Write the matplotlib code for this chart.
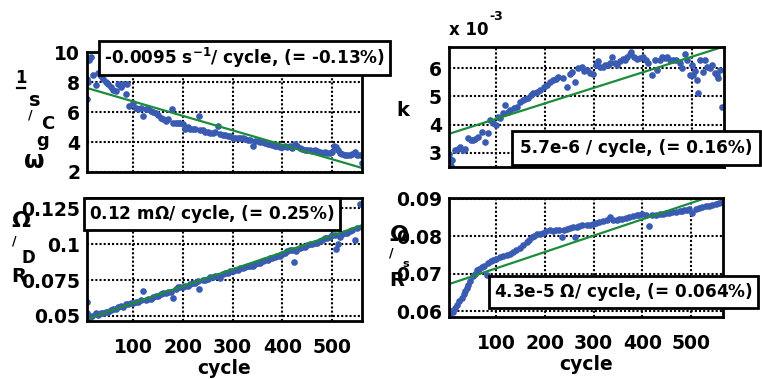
import matplotlib
matplotlib.use('Agg')
import matplotlib.pyplot as plt
from matplotlib.lines import Line2D
import numpy as np

plt.rcParams['font.family'] = ['DejaVu Sans']
plt.rcParams['font.weight'] = 'bold'

W, H = 762, 379

# ---- data ----
# top-left: omega_g^C (1/s) vs cycle
omega_pts = [
    (7, 8.2), (7, 6.85), (9, 8.0), (12, 9.5), (15, 9.65), (20, 8.5), (25, 7.8), (30, 8.6),
    (35, 8.4), (40, 8.2), (45, 8.0), (50, 7.9), (55, 7.7), (60, 7.5), (65, 7.4), (70, 7.9),
    (75, 7.7), (80, 7.9), (85, 7.2), (88, 7.9), (92, 6.4), (100, 6.6), (105, 6.3), (110, 6.2),
    (115, 6.3), (120, 5.7), (125, 6.2), (130, 6.2), (135, 6.1), (140, 6.0), (145, 5.9),
    (150, 5.8), (155, 5.6), (160, 5.5), (165, 5.4), (170, 5.5), (178, 6.2), (180, 5.3),
    (185, 5.3), (190, 5.3), (195, 5.3), (200, 5.2), (205, 4.9), (210, 5.0), (215, 4.9),
    (220, 4.85), (225, 4.9), (232, 5.7), (235, 4.8), (240, 4.8), (245, 4.7), (250, 4.7),
    (255, 4.6), (260, 4.6), (265, 4.65), (270, 5.1), (275, 4.55), (280, 4.5), (285, 4.45),
    (290, 4.4), (295, 4.4), (300, 4.3), (305, 4.3), (310, 4.25), (315, 4.25), (320, 4.3),
    (325, 4.2), (330, 4.15), (335, 4.15), (340, 3.75), (345, 4.1), (350, 4.05), (355, 4.0),
    (360, 4.0), (365, 3.95), (370, 3.9), (375, 3.85), (380, 3.8), (385, 3.75), (390, 3.7),
    (395, 3.65), (400, 3.65), (405, 3.7), (410, 3.65), (415, 3.7), (420, 3.6), (425, 3.9),
    (430, 3.75), (435, 3.6), (440, 3.55), (445, 3.5), (450, 3.5), (455, 3.45), (460, 3.4),
    (465, 3.45), (470, 3.4), (475, 3.35), (480, 3.3), (485, 3.35), (490, 3.3), (495, 3.25),
    (500, 3.35), (503, 3.75), (507, 3.65), (511, 3.45), (515, 3.3), (520, 3.2), (525, 3.15),
    (530, 3.1), (535, 3.15), (540, 3.2), (545, 3.35), (550, 3.15), (555, 3.1), (560, 2.6),
]
omega_fit = [(7, 7.6), (560, 2.27)]

# top-right: k (x 1e-3) vs cycle
k_pts = [
    (5, 2.95), (6, 2.8), (7, 2.65), (8, 2.55), (10, 2.75), (16, 3.1), (22, 3.15), (27, 3.2),
    (32, 3.1), (37, 3.15), (43, 3.53), (48, 3.45), (53, 3.47), (58, 3.5), (63, 3.58),
    (71, 3.75), (78, 3.4), (84, 3.7), (88, 4.17), (94, 4.07), (99, 4.0), (104, 4.28),
    (109, 4.25), (114, 4.4), (118, 4.7), (124, 4.45), (129, 4.53), (136, 4.6), (143, 4.63),
    (149, 4.8), (155, 4.88), (160, 4.9), (165, 4.95), (171, 5.05), (176, 5.12), (183, 5.15),
    (190, 5.23), (197, 5.35), (204, 5.4), (210, 5.5), (216, 5.58), (222, 5.6), (227, 5.68),
    (237, 5.65), (245, 5.33), (250, 5.8), (255, 5.86), (261, 5.5), (268, 6.0), (275, 6.03),
    (280, 5.9), (286, 5.93), (292, 5.82), (298, 5.78), (303, 6.1), (308, 6.25), (313, 6.05),
    (318, 6.03), (323, 6.1), (329, 6.1), (333, 6.2), (337, 6.4), (342, 6.2), (347, 6.1),
    (353, 6.25), (359, 6.33), (364, 6.3), (368, 6.4), (373, 6.5), (376, 6.56), (382, 6.4),
    (388, 6.33), (394, 6.35), (400, 6.4), (405, 6.3), (410, 6.2), (418, 5.75), (424, 6.3),
    (429, 5.93), (434, 6.3), (439, 6.4), (444, 6.35), (449, 6.4), (455, 6.3), (461, 6.28),
    (468, 6.3), (476, 6.2), (480, 6.0), (486, 6.5), (490, 6.3), (496, 5.75), (500, 6.1),
    (502, 5.75), (506, 5.9), (510, 5.58), (511, 5.12), (516, 6.28), (522, 5.86),
    (527, 6.3), (531, 6.03), (536, 6.0), (541, 6.1), (547, 5.82), (551, 5.75), (553, 5.65),
    (557, 5.93), (561, 4.63),
]
k_fit = [(5, 3.68), (560, 6.74)]

# bottom-left: R_D (Ohm) vs cycle
rd_pts = [
    (8, 0.0597), (8, 0.052), (10, 0.050), (13, 0.049), (18, 0.050), (25, 0.052), (30, 0.051),
    (35, 0.052), (40, 0.052), (45, 0.053), (50, 0.053), (55, 0.054), (60, 0.055), (65, 0.055),
    (70, 0.056), (75, 0.057), (80, 0.056), (85, 0.058), (90, 0.058), (95, 0.059), (100, 0.059),
    (105, 0.060), (110, 0.060), (115, 0.061), (120, 0.0674), (125, 0.061), (130, 0.062),
    (135, 0.062), (140, 0.063), (145, 0.064), (150, 0.064), (155, 0.065), (160, 0.066),
    (165, 0.066), (170, 0.067), (175, 0.067), (180, 0.0625), (185, 0.069), (190, 0.070),
    (195, 0.070), (200, 0.070), (205, 0.071), (210, 0.071), (215, 0.072), (220, 0.073),
    (225, 0.073), (230, 0.074), (233, 0.069), (240, 0.075), (245, 0.075), (250, 0.076),
    (255, 0.077), (260, 0.077), (265, 0.078), (270, 0.078), (275, 0.0765), (280, 0.079),
    (285, 0.080), (290, 0.080), (295, 0.081), (300, 0.081), (305, 0.082), (310, 0.082),
    (315, 0.083), (320, 0.083), (325, 0.084), (330, 0.085), (335, 0.085), (340, 0.085),
    (345, 0.086), (350, 0.087), (355, 0.087), (360, 0.088), (365, 0.089), (370, 0.089),
    (375, 0.090), (380, 0.090), (385, 0.091), (390, 0.092), (395, 0.092), (400, 0.093),
    (405, 0.094), (410, 0.095), (415, 0.096), (420, 0.096), (423, 0.0875), (428, 0.095),
    (435, 0.097), (440, 0.098), (445, 0.098), (450, 0.099), (455, 0.100), (460, 0.100),
    (465, 0.101), (470, 0.101), (475, 0.102), (480, 0.103), (485, 0.104), (490, 0.104),
    (495, 0.105), (500, 0.106), (505, 0.106), (508, 0.0965), (512, 0.100), (515, 0.105),
    (520, 0.107), (525, 0.108), (530, 0.108), (535, 0.109), (540, 0.110), (546, 0.103),
    (550, 0.111), (555, 0.128), (560, 0.112),
]
rd_fit = [(12, 0.0486), (560, 0.113)]

# bottom-right: R_s (Ohm) vs cycle
rs_pts = [
    (3, 0.0602), (6, 0.0595), (9, 0.0600), (12, 0.0598), (16, 0.0608), (20, 0.0618),
    (25, 0.0627), (30, 0.0636), (34, 0.0646), (37, 0.0655), (40, 0.0663), (43, 0.0671),
    (48, 0.0682), (53, 0.0693), (57, 0.0700), (61, 0.0709), (66, 0.0713), (71, 0.0717),
    (76, 0.0722), (82, 0.0698), (84, 0.0730), (89, 0.0734), (94, 0.0738), (100, 0.0740),
    (108, 0.0744), (115, 0.0747), (122, 0.0750), (128, 0.0752), (135, 0.0757),
    (142, 0.0763), (149, 0.0770), (156, 0.0777), (163, 0.0784), (168, 0.0790),
    (173, 0.0797), (178, 0.0801), (184, 0.0805), (190, 0.0807), (196, 0.0810),
    (203, 0.0813), (210, 0.0816), (217, 0.0815), (224, 0.0816), (230, 0.0818),
    (235, 0.0797), (240, 0.0818), (245, 0.0819), (251, 0.0821), (257, 0.0824),
    (261, 0.0797), (266, 0.0825), (271, 0.0827), (277, 0.0830), (286, 0.0830),
    (292, 0.0831), (298, 0.0832), (305, 0.0835), (312, 0.0838), (319, 0.0840),
    (327, 0.0843), (333, 0.0851), (340, 0.0844), (347, 0.0843), (353, 0.0845),
    (359, 0.0846), (366, 0.0849), (373, 0.0851), (380, 0.0853), (388, 0.0856),
    (394, 0.0857), (400, 0.0859), (407, 0.0857), (414, 0.0827), (420, 0.0856),
    (427, 0.0858), (435, 0.0859), (442, 0.0860), (449, 0.0862), (455, 0.0863),
    (461, 0.0864), (468, 0.0866), (476, 0.0867), (481, 0.0868), (486, 0.0870),
    (491, 0.0871), (496, 0.0872), (502, 0.0862), (509, 0.0872), (516, 0.0875),
    (523, 0.0877), (531, 0.0880), (537, 0.0881), (543, 0.0883), (550, 0.0885),
    (557, 0.0888), (563, 0.0891),
]
rs_fit = [(5, 0.0673), (560, 0.0915)]

x_ticks = [100, 200, 300, 400, 500]
x_tick_labels = ['100', '200', '300', '400', '500']

panels = [
    # pts, fit, rect (px: left, top, right, bottom), xlim, ylim, yticks, ylabels, bottom row
    (omega_pts, omega_fit, (87, 52, 362, 172), (7, 560), (2, 10),
     [2, 4, 6, 8, 10], ['2', '4', '6', '8', '10'], False),
    (k_pts, k_fit, (449, 47, 724, 167), (4, 565), (2.5, 6.75),
     [3, 4, 5, 6], ['3', '4', '5', '6'], False),
    (rd_pts, rd_fit, (87, 198, 362, 321), (7, 560), (0.0465, 0.132),
     [0.05, 0.075, 0.1, 0.125], ['0.05', '0.075', '0.1', '0.125'], True),
    (rs_pts, rs_fit, (449, 198, 723, 317), (4, 565), (0.0585, 0.0902),
     [0.06, 0.07, 0.08, 0.09], ['0.06', '0.07', '0.08', '0.09'], True),
]

blue = '#3a5bb2'
green = '#1c8c3c'

fig = plt.figure(figsize=(W / 100, H / 100), dpi=100)
fig.patch.set_facecolor('white')


def fx(px):
    return px / W


def fy(py):
    return 1 - py / H


for pts, fit, (l, t, r, b), xlim, ylim, yt, ytl, bottom in panels:
    ax = fig.add_axes([fx(l), fy(b), fx(r) - fx(l), fy(t) - fy(b)])
    xs = [p[0] for p in pts]
    ys = [p[1] for p in pts]
    ax.plot(xs, ys, 'o', color=blue, markersize=4.8, markeredgewidth=0, zorder=3)
    ax.plot([p[0] for p in fit], [p[1] for p in fit], color=green, lw=1.6, zorder=4)
    ax.set_xlim(*xlim)
    ax.set_ylim(*ylim)
    ax.set_xticks(x_ticks)
    ax.set_yticks(yt)
    ax.set_yticklabels(ytl, fontsize=13.5, fontweight='bold')
    if bottom:
        ax.set_xticklabels(x_tick_labels, fontsize=13.5, fontweight='bold')
        ax.set_xlabel('cycle', fontsize=13.5, fontweight='bold', labelpad=2)
    else:
        ax.set_xticklabels([])
    ax.tick_params(axis='both', length=0)
    ax.tick_params(axis='x', pad=12)
    ax.tick_params(axis='y', pad=5)
    ax.grid(True, color='black', linestyle=(0, (1, 1)), linewidth=1.5)
    ax.set_axisbelow(True)
    for s in ax.spines.values():
        s.set_linewidth(2)
        s.set_zorder(5)

# stacked y-axis labels (glyphs drawn upright one over another)
label_bits = [
    ('1', 21, 78, 12), ('s', 35, 101, 14), ('/', 30, 115, 9),
    ('C', 48, 124, 13), ('g', 43, 141, 13), ('ω', 34, 161, 17),
    ('k', 403, 110, 14),
    ('Ω', 21, 221, 16), ('/', 14, 241, 9), ('D', 28, 258, 12), ('R', 19, 276, 14),
    ('Ω', 399, 235, 16), ('/', 391, 253, 9), ('s', 406, 264, 8), ('R', 397, 281, 14),
]
for txt, px, py, fs in label_bits:
    fig.text(fx(px), fy(py), txt, fontsize=fs, fontweight='bold', ha='center', va='center')
# the bar under the "1" of s^-1
fig.add_artist(Line2D([fx(17), fx(25)], [fy(88), fy(88)], color='black', lw=1.6))

fig.text(fx(449), fy(30), 'x 10', fontsize=12, fontweight='bold', ha='left', va='center')
fig.text(fx(489), fy(17), '-3', fontsize=9, fontweight='bold', ha='left', va='center')

# slope annotations
box = dict(boxstyle='square,pad=0.3', fc='white', ec='black', lw=2)
notes = [
    ('-0.0095 s$^{\\mathbf{-1}}$/ cycle, (= -0.13%)', 104, 58, 0.3),
    ('5.7e-6 / cycle, (= 0.16%)', 520, 148, 0.45),
    ('0.12 m$\\mathbf{\\Omega}$/ cycle, (= 0.25%)', 89, 214, 0.3),
    ('4.3e-5 $\\mathbf{\\Omega}$/ cycle, (= 0.064%)', 494, 292, 0.3),
]
for txt, px, py, pad in notes:
    b = dict(box, boxstyle='square,pad=%s' % pad)
    fig.text(fx(px), fy(py), txt, fontsize=12.2, fontweight='bold', ha='left', va='center',
             bbox=b, zorder=10)

fig.savefig('out.png', dpi=100)
